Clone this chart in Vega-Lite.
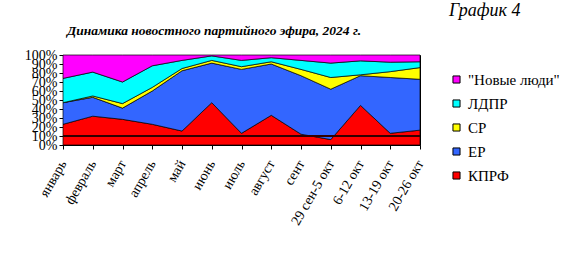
{
  "$schema": "https://vega.github.io/schema/vega-lite/v6.json",
  "width": 357,
  "height": 90,
  "autosize": {"type": "none"},
  "padding": {"left": 63, "top": 55, "right": 161, "bottom": 108},
  "background": "white",
  "config": {
    "font": "Liberation Serif",
    "view": {"stroke": "black", "strokeWidth": 1},
    "axisY": {
      "labelFont": "Liberation Serif",
      "labelFontSize": 14,
      "labelColor": "black",
      "labelOverlap": false,
      "labelFlush": false,
      "labelPadding": 2,
      "tickColor": "black",
      "tickSize": 4,
      "domainColor": "black",
      "grid": false
    }
  },
  "title": {
    "text": "Динамика новостного партийного эфира, 2024 г.",
    "font": "Liberation Serif",
    "fontSize": 13.5,
    "fontWeight": "bold",
    "fontStyle": "italic",
    "color": "black",
    "anchor": "start",
    "frame": "group",
    "dx": 4,
    "offset": -35
  },
  "datasets": {
    "parties": [
      {"party": "КПРФ", "rank": 1},
      {"party": "ЕР", "rank": 2},
      {"party": "СР", "rank": 3},
      {"party": "ЛДПР", "rank": 4},
      {"party": "\"Новые люди\"", "rank": 5}
    ]
  },
  "data": {
    "values": [
      {"period": "январь", "party": "КПРФ", "share": 23},
      {"period": "январь", "party": "ЕР", "share": 24},
      {"period": "январь", "party": "СР", "share": 0},
      {"period": "январь", "party": "ЛДПР", "share": 27},
      {"period": "январь", "party": "\"Новые люди\"", "share": 26},
      {"period": "февраль", "party": "КПРФ", "share": 32},
      {"period": "февраль", "party": "ЕР", "share": 21},
      {"period": "февраль", "party": "СР", "share": 1.5},
      {"period": "февраль", "party": "ЛДПР", "share": 26.5},
      {"period": "февраль", "party": "\"Новые люди\"", "share": 19},
      {"period": "март", "party": "КПРФ", "share": 28.5},
      {"period": "март", "party": "ЕР", "share": 12.5},
      {"period": "март", "party": "СР", "share": 5},
      {"period": "март", "party": "ЛДПР", "share": 24},
      {"period": "март", "party": "\"Новые люди\"", "share": 30},
      {"period": "апрель", "party": "КПРФ", "share": 23},
      {"period": "апрель", "party": "ЕР", "share": 37},
      {"period": "апрель", "party": "СР", "share": 4},
      {"period": "апрель", "party": "ЛДПР", "share": 24},
      {"period": "апрель", "party": "\"Новые люди\"", "share": 12},
      {"period": "май", "party": "КПРФ", "share": 15.5},
      {"period": "май", "party": "ЕР", "share": 67},
      {"period": "май", "party": "СР", "share": 2.5},
      {"period": "май", "party": "ЛДПР", "share": 9},
      {"period": "май", "party": "\"Новые люди\"", "share": 6},
      {"period": "июнь", "party": "КПРФ", "share": 47},
      {"period": "июнь", "party": "ЕР", "share": 44},
      {"period": "июнь", "party": "СР", "share": 3},
      {"period": "июнь", "party": "ЛДПР", "share": 5},
      {"period": "июнь", "party": "\"Новые люди\"", "share": 1},
      {"period": "июль", "party": "КПРФ", "share": 13},
      {"period": "июль", "party": "ЕР", "share": 71},
      {"period": "июль", "party": "СР", "share": 3},
      {"period": "июль", "party": "ЛДПР", "share": 7},
      {"period": "июль", "party": "\"Новые люди\"", "share": 6},
      {"period": "август", "party": "КПРФ", "share": 33},
      {"period": "август", "party": "ЕР", "share": 57},
      {"period": "август", "party": "СР", "share": 2.5},
      {"period": "август", "party": "ЛДПР", "share": 4.5},
      {"period": "август", "party": "\"Новые люди\"", "share": 3},
      {"period": "сент", "party": "КПРФ", "share": 12},
      {"period": "сент", "party": "ЕР", "share": 65},
      {"period": "сент", "party": "СР", "share": 7},
      {"period": "сент", "party": "ЛДПР", "share": 10},
      {"period": "сент", "party": "\"Новые люди\"", "share": 6},
      {"period": "29 сен-5 окт", "party": "КПРФ", "share": 6},
      {"period": "29 сен-5 окт", "party": "ЕР", "share": 56},
      {"period": "29 сен-5 окт", "party": "СР", "share": 13},
      {"period": "29 сен-5 окт", "party": "ЛДПР", "share": 16},
      {"period": "29 сен-5 окт", "party": "\"Новые люди\"", "share": 9},
      {"period": "6-12 окт", "party": "КПРФ", "share": 44},
      {"period": "6-12 окт", "party": "ЕР", "share": 33},
      {"period": "6-12 окт", "party": "СР", "share": 1},
      {"period": "6-12 окт", "party": "ЛДПР", "share": 15.5},
      {"period": "6-12 окт", "party": "\"Новые люди\"", "share": 6.5},
      {"period": "13-19 окт", "party": "КПРФ", "share": 13},
      {"period": "13-19 окт", "party": "ЕР", "share": 62},
      {"period": "13-19 окт", "party": "СР", "share": 6.5},
      {"period": "13-19 окт", "party": "ЛДПР", "share": 10.5},
      {"period": "13-19 окт", "party": "\"Новые люди\"", "share": 8},
      {"period": "20-26 окт", "party": "КПРФ", "share": 16.5},
      {"period": "20-26 окт", "party": "ЕР", "share": 56.5},
      {"period": "20-26 окт", "party": "СР", "share": 13},
      {"period": "20-26 окт", "party": "ЛДПР", "share": 6.5},
      {"period": "20-26 окт", "party": "\"Новые люди\"", "share": 7.5}
    ]
  },
  "layer": [
    {
      "transform": [
        {"lookup": "party", "from": {"data": {"name": "parties"}, "key": "party", "fields": ["rank"]}}
      ],
      "mark": {"type": "area", "stroke": "black", "strokeWidth": 0.7, "opacity": 1},
      "encoding": {
        "x": {
          "field": "period",
          "type": "ordinal",
          "sort": ["январь", "февраль", "март", "апрель", "май", "июнь", "июль", "август", "сент", "29 сен-5 окт", "6-12 окт", "13-19 окт", "20-26 окт"],
          "scale": {"type": "point", "padding": 0},
          "axis": {
            "title": null,
            "labelAngle": -60,
            "labelAlign": "right",
            "labelBaseline": "middle",
            "labelFont": "Liberation Serif",
            "labelFontSize": 14,
            "labelColor": "black",
            "labelPadding": 12,
            "tickColor": "black",
            "tickSize": 4,
            "domainColor": "black",
            "labelOverlap": false,
            "grid": false
          }
        },
        "y": {
          "field": "share",
          "type": "quantitative",
          "stack": "normalize",
          "scale": {"domain": [0, 1]},
          "axis": {
            "title": null,
            "values": [0, 0.1, 0.2, 0.3, 0.4, 0.5, 0.6, 0.7, 0.8, 0.9, 1],
            "format": ".0%",
            "labelOverlap": false
          }
        },
        "order": {"field": "rank", "type": "quantitative", "sort": "ascending"},
        "color": {
          "field": "party",
          "type": "nominal",
          "sort": ["\"Новые люди\"", "ЛДПР", "СР", "ЕР", "КПРФ"],
          "scale": {
            "domain": ["\"Новые люди\"", "ЛДПР", "СР", "ЕР", "КПРФ"],
            "range": ["#ff00ff", "#00ffff", "#ffff00", "#3366ff", "#ff0000"]
          },
          "legend": {
            "title": "График 4",
            "titleFont": "Liberation Serif",
            "titleFontSize": 18,
            "titleFontStyle": "italic",
            "titleFontWeight": "normal",
            "titleColor": "black",
            "titlePadding": 52,
            "orient": "none",
            "legendX": 386,
            "legendY": -53,
            "padding": 0,
            "symbolType": "square",
            "symbolSize": 50,
            "symbolStrokeColor": "black",
            "symbolStrokeWidth": 1,
            "symbolOpacity": 1,
            "labelFont": "Liberation Serif",
            "labelFontSize": 15,
            "labelColor": "black",
            "labelOffset": 4,
            "rowPadding": 8
          }
        }
      }
    },
    {
      "mark": {"type": "rule", "color": "#330000", "strokeWidth": 1},
      "encoding": {
        "y": {
          "datum": 0.1,
          "type": "quantitative",
          "axis": {
            "title": null,
            "values": [0, 0.1, 0.2, 0.3, 0.4, 0.5, 0.6, 0.7, 0.8, 0.9, 1],
            "format": ".0%",
            "labelOverlap": false
          }
        }
      }
    }
  ]
}
